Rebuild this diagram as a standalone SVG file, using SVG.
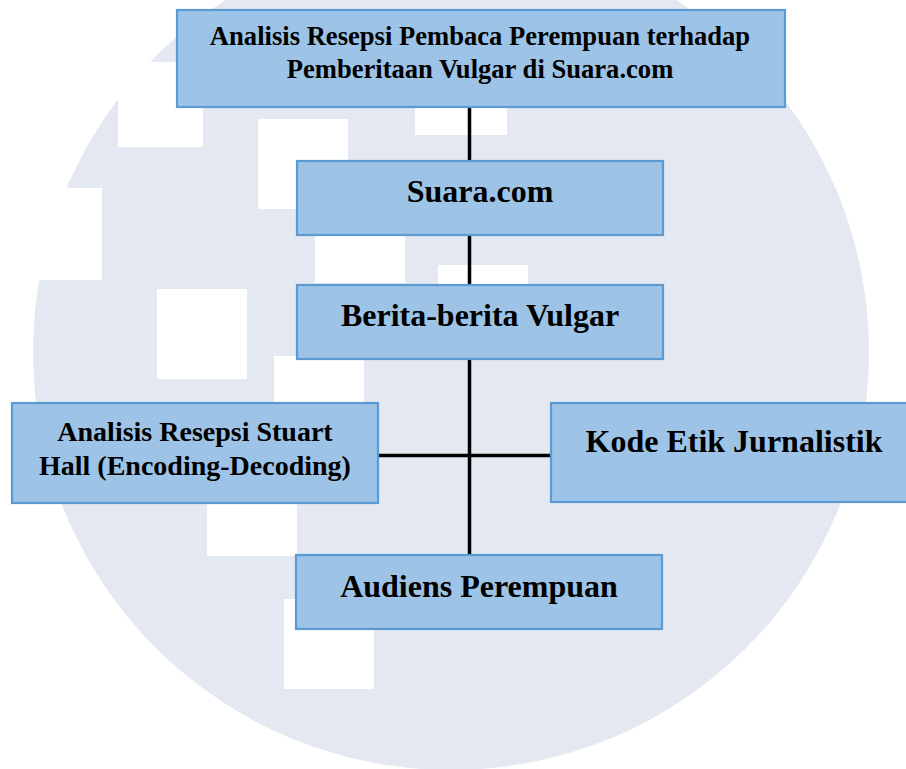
<svg xmlns="http://www.w3.org/2000/svg" width="906" height="769" viewBox="0 0 906 769">
  <style>
    .bg { fill: #E4E8F0; }
    .hole { fill: #FFFFFF; }
    .box { fill: #9DC3E6; stroke: #5B9BD5; stroke-width: 2.2; }
    .lbl { font-family: "Liberation Serif", "Times New Roman", serif; font-weight: bold; fill: #000000; text-anchor: middle; }
    .conn { stroke: #000000; stroke-width: 3.5; fill: none; }
  </style>
  <rect x="0" y="0" width="906" height="769" fill="#FFFFFF"/>
  <g id="watermark">
    <circle class="bg" cx="451" cy="352" r="418"/>
    <rect class="hole" x="118" y="62" width="85" height="85"/>
    <rect class="hole" x="258" y="119" width="90" height="90"/>
    <rect class="hole" x="315" y="193" width="90" height="90"/>
    <rect class="hole" x="438" y="265" width="90" height="90"/>
    <rect class="hole" x="415" y="45" width="92" height="90"/>
    <rect class="hole" x="157" y="289" width="90" height="90"/>
    <rect class="hole" x="274" y="356" width="90" height="90"/>
    <rect class="hole" x="0" y="188" width="102" height="92"/>
    <rect class="hole" x="207" y="466" width="90" height="90"/>
    <rect class="hole" x="284" y="599" width="90" height="90"/>
  </g>
  <g id="connectors">
    <line class="conn" x1="469.5" y1="107" x2="469.5" y2="555"/>
    <line class="conn" x1="378" y1="455.5" x2="551" y2="455.5"/>
  </g>
  <g id="node-title">
    <rect class="box" x="177" y="10" width="608" height="97"/>
    <text class="lbl" x="480" y="45" font-size="26.6">Analisis Resepsi Pembaca Perempuan terhadap</text>
    <text class="lbl" x="480" y="78" font-size="26.6">Pemberitaan Vulgar di Suara.com</text>
  </g>
  <g id="node-suara">
    <rect class="box" x="297" y="161" width="366" height="74"/>
    <text class="lbl" x="480" y="202" font-size="32">Suara.com</text>
  </g>
  <g id="node-berita">
    <rect class="box" x="297" y="285" width="366" height="74"/>
    <text class="lbl" x="480" y="326" font-size="32">Berita-berita Vulgar</text>
  </g>
  <g id="node-stuart">
    <rect class="box" x="12" y="403" width="366" height="100"/>
    <text class="lbl" x="195" y="441" font-size="28">Analisis Resepsi Stuart</text>
    <text class="lbl" x="195" y="475" font-size="28">Hall (Encoding-Decoding)</text>
  </g>
  <g id="node-kode">
    <rect class="box" x="551" y="403" width="366" height="99"/>
    <text class="lbl" x="734" y="452" font-size="32">Kode Etik Jurnalistik</text>
  </g>
  <g id="node-audiens">
    <rect class="box" x="296" y="555" width="366" height="74"/>
    <text class="lbl" x="479" y="597" font-size="32">Audiens Perempuan</text>
  </g>
</svg>
